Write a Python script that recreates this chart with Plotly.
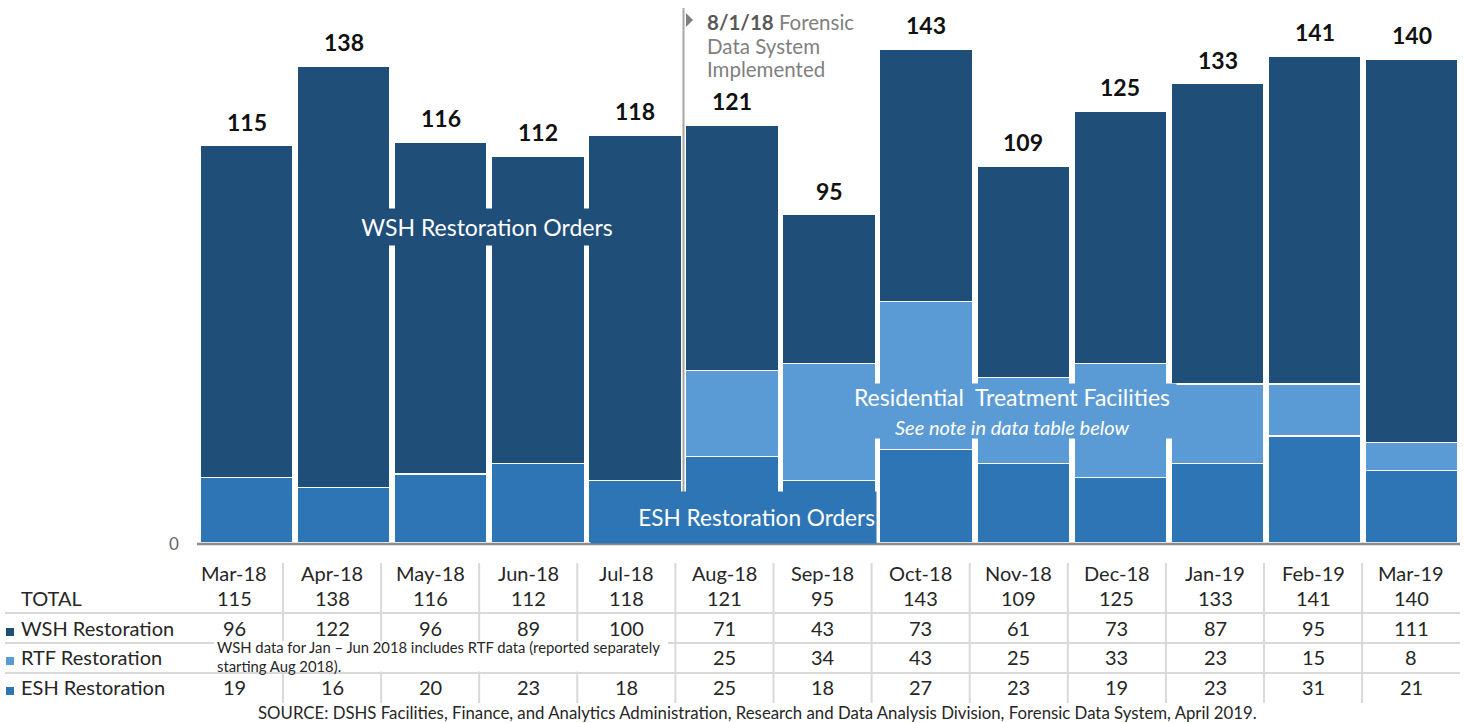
import plotly.graph_objects as go

months = ["Mar-18", "Apr-18", "May-18", "Jun-18", "Jul-18", "Aug-18", "Sep-18",
          "Oct-18", "Nov-18", "Dec-18", "Jan-19", "Feb-19", "Mar-19"]
wsh = [96, 122, 96, 89, 100, 71, 43, 73, 61, 73, 87, 95, 111]
rtf = [None, None, None, None, None, 25, 34, 43, 25, 33, 23, 15, 8]
esh = [19, 16, 20, 23, 18, 25, 18, 27, 23, 19, 23, 31, 21]
totals = [115, 138, 116, 112, 118, 121, 95, 143, 109, 125, 133, 141, 140]

C_WSH = "#1F4E79"
C_RTF = "#5B9BD5"
C_ESH = "#2E75B6"
FONT = "Lato"

W, H = 1465, 723
BASE = 543  # pixel of zero line
PXU = 3.4545  # pixels per unit


def X(px):
    return px / W


def Y(py):
    return (BASE - py) / BASE


def A(**kw):
    d = dict(xref="paper", yref="paper", showarrow=False, xanchor="center", yanchor="middle")
    d.update(kw)
    return d


idx = list(range(len(months)))
fig = go.Figure()
for name, vals, col in [("ESH Restoration", esh, C_ESH),
                        ("RTF Restoration", rtf, C_RTF),
                        ("WSH Restoration", wsh, C_WSH)]:
    fig.add_trace(go.Bar(x=idx, y=vals, name=name, marker_color=col,
                         marker_line_color="white", marker_line_width=1.2,
                         showlegend=False, hoverinfo="skip"))

ann = []
shapes = []

# totals above bars
for i, t in zip(idx, totals):
    ann.append(dict(x=i, y=t, xref="x", yref="y", text=f"<b>{t}</b>", showarrow=False,
                    xanchor="center", yanchor="bottom", yshift=8,
                    font=dict(family=FONT, size=23, color="#111111")))

# axis baseline and zero label
shapes.append(dict(type="line", xref="paper", yref="paper", x0=X(197), x1=X(1460), y0=Y(544), y1=Y(544),
                   line=dict(color="#8C8C8C", width=2.5)))
ann.append(A(x=X(181), y=Y(543), text="0", xanchor="right",
             font=dict(family=FONT, size=17, color="#666666")))

# implementation marker line
shapes.append(dict(type="line", xref="paper", yref="paper", x0=X(683.5), x1=X(683.5), y0=Y(8), y1=Y(543),
                   line=dict(color="#A6A6A6", width=2)))
shapes.append(dict(type="path", xref="paper", yref="paper",
                   path=f"M {X(686)} {Y(13)} L {X(693)} {Y(20)} L {X(686)} {Y(27)} Z",
                   fillcolor="#7F7F7F", line=dict(width=0)))
gf = dict(family=FONT, size=20.5, color="#7F7F7F")
ann.append(A(x=X(705), y=Y(22), xanchor="left",
             text="<b><span style='color:#595959'>8/1/18</span></b> Forensic", font=gf))
ann.append(A(x=X(705), y=Y(46.5), xanchor="left", text="Data System", font=gf))
ann.append(A(x=X(705), y=Y(69.5), xanchor="left", text="Implemented", font=gf))

# in-chart series labels
ann.append(A(x=X(487), y=Y(227), text="WSH Restoration Orders", bgcolor=C_WSH, width=272, height=34,
             font=dict(family=FONT, size=23, color="white")))
ann.append(A(x=X(1012), y=Y(411),
             text="Residential  Treatment Facilities<br><i><span style='font-size:20px'>See note in data table below</span></i>",
             bgcolor=C_RTF, width=326, height=52,
             font=dict(family=FONT, size=23, color="white")))
ann.append(A(x=X(733.5), y=Y(517.5), text="ESH Restoration Orders", bgcolor=C_ESH, width=283, height=49,
             align="right", font=dict(family=FONT, size=22.6, color="white")))

# ---------- data table ----------
def colx(i):
    return 234 + 98.1 * i

grid = "#D9D9D9"
for py in [613, 643, 673]:
    shapes.append(dict(type="line", xref="paper", yref="paper", x0=X(5), x1=X(1460), y0=Y(py), y1=Y(py),
                       line=dict(color=grid, width=2)))
for k in range(12):
    bx = colx(k) + 49
    shapes.append(dict(type="line", xref="paper", yref="paper", x0=X(bx), x1=X(bx), y0=Y(563), y1=Y(703),
                       line=dict(color=grid, width=2)))
# white box for the note
shapes.append(dict(type="rect", xref="paper", yref="paper", x0=X(214), x1=X(668), y0=Y(641), y1=Y(671.5),
                   fillcolor="white", line=dict(width=0)))

tf = dict(family=FONT, size=20, color="#262626")
rows = [(573, months), (598, totals), (628, wsh), (657, rtf), (687, esh)]
for py, vals in rows:
    for i, v in enumerate(vals):
        if v is None:
            continue
        ann.append(A(x=X(colx(i)), y=Y(py), text=str(v), font=tf))

labels = [(598, "TOTAL", None), (628, "WSH Restoration", C_WSH),
          (657, "RTF Restoration", C_RTF), (687, "ESH Restoration", C_ESH)]
for py, lab, col in labels:
    ann.append(A(x=X(19), y=Y(py), text=lab, xanchor="left", font=tf))
    if col:
        shapes.append(dict(type="rect", xref="paper", yref="paper", x0=X(6), x1=X(14),
                           y0=Y(py + 8), y1=Y(py), fillcolor=col, line=dict(width=0)))

ann.append(A(x=X(215), y=Y(656.5), xanchor="left", align="left",
             text="WSH data for Jan \u2013 Jun 2018 includes RTF data (reported separately<br>starting Aug 2018).",
             font=dict(family=FONT, size=14.8, color="#262626")))
ann.append(A(x=X(757), y=Y(713),
             text="SOURCE: DSHS Facilities, Finance, and Analytics Administration, Research and Data Analysis Division, Forensic Data System, April 2019.",
             font=dict(family=FONT, size=16.8, color="#262626")))

fig.update_layout(
    width=W, height=H, barmode="stack", bargap=0.045,
    margin=dict(l=0, r=0, t=0, b=H - BASE),
    plot_bgcolor="white", paper_bgcolor="white",
    xaxis=dict(range=[-2.539, 12.549], visible=False, fixedrange=True),
    yaxis=dict(range=[0, BASE / PXU], visible=False, fixedrange=True),
    annotations=ann, shapes=shapes,
)
fig.write_html("out.html", post_script="document.body.style.margin='0';",
               config={"displayModeBar": False})
